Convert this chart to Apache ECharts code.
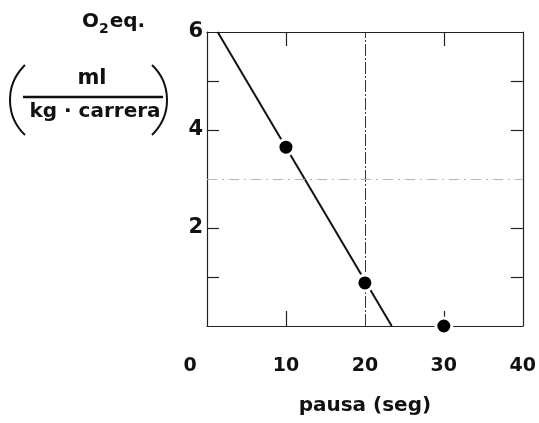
<!DOCTYPE html>
<html>
<head>
<meta charset="utf-8">
<script src="https://cdn.jsdelivr.net/npm/echarts@6/dist/echarts.min.js"></script>
<style>html,body{margin:0;padding:0;background:#fff;}#c{width:539px;height:423px;}</style>
</head>
<body>
<div id="c"></div>
<script>
// Data
var pausa = [10, 20, 30];              // pausa (seg)
var o2eq = [3.65, 0.88, 0.0];          // O2 eq. ml/(kg·carrera)
var fitX = [1.35, 23.4];               // fitted line end points (x)
var fitY = [6, 0];                     // fitted line end points (y)
var xTickLabels = [0, 10, 20, 30, 40];
var xMinorTicks = [10, 30];
var yTickLabels = [2, 4, 6];
var yMinorTicks = [1, 2, 4, 5];

var font = 'DejaVu Sans';
var ink = '#111';

var chart = echarts.init(document.getElementById('c'), null, {renderer: 'canvas'});

var pts = pausa.map(function (x, i) { return [x, o2eq[i]]; });
var fit = fitX.map(function (x, i) { return [x, fitY[i]]; });

var boxLine = {show: true, onZero: false, lineStyle: {color: '#222', width: 1.2}};
var tickStyle = {color: '#222', width: 1.2};

chart.setOption({
  animation: false,
  backgroundColor: '#fff',
  grid: {left: 207, right: 14, top: 32, bottom: 97, containLabel: false},
  xAxis: [{
    type: 'value', min: 0, max: 40, interval: 10, position: 'bottom',
    axisLine: boxLine,
    axisTick: {show: true, inside: true, length: 15, customValues: xMinorTicks, lineStyle: tickStyle},
    axisLabel: {
      show: true, customValues: xTickLabels, margin: 31,
      fontFamily: font, fontSize: 19, fontWeight: 'bold', color: ink,
      formatter: function (v) { return v === 0 ? '{z|0}' : String(v); },
      rich: {z: {fontFamily: font, fontSize: 19, fontWeight: 'bold', color: ink, padding: [0, 34, 0, 0]}}
    },
    splitLine: {show: false},
    name: 'pausa (seg)', nameLocation: 'middle', nameGap: 70,
    nameTextStyle: {fontFamily: font, fontSize: 20, fontWeight: 'bold', color: ink}
  }, {
    type: 'value', min: 0, max: 40, interval: 10, position: 'top',
    axisLine: boxLine,
    axisTick: {show: true, inside: true, length: 14, customValues: xMinorTicks, lineStyle: tickStyle},
    axisLabel: {show: false}, splitLine: {show: false}
  }],
  yAxis: [{
    type: 'value', min: 0, max: 6, interval: 1, position: 'left',
    axisLine: boxLine,
    axisTick: {show: true, inside: true, length: 12, customValues: yMinorTicks, lineStyle: tickStyle},
    axisLabel: {show: true, customValues: yTickLabels, margin: 4, fontFamily: font, fontSize: 21, fontWeight: 'bold', color: ink},
    splitLine: {show: false}
  }, {
    type: 'value', min: 0, max: 6, interval: 1, position: 'right',
    axisLine: boxLine,
    axisTick: {show: true, inside: true, length: 12, customValues: yMinorTicks, lineStyle: tickStyle},
    axisLabel: {show: false}, splitLine: {show: false}
  }],
  series: [{
    type: 'line', data: fit, xAxisIndex: 0, yAxisIndex: 0,
    symbol: 'none', lineStyle: {color: ink, width: 2},
    z: 3,
    markLine: {
      silent: true, symbol: 'none', label: {show: false},
      data: [
        {xAxis: 20, lineStyle: {color: '#333', width: 1, type: [12, 2, 2, 2]}},
        {yAxis: 3, lineStyle: {color: '#b5b5b5', width: 1, type: [10, 5, 2, 5]}}
      ]
    }
  }, {
    type: 'scatter', data: pts, xAxisIndex: 0, yAxisIndex: 0,
    symbol: 'circle', symbolSize: 16,
    itemStyle: {color: '#000', borderColor: '#fff', borderWidth: 3, opacity: 1},
    z: 5
  }],
  graphic: [
    {type: 'text', left: 82, top: 12, z: 10, style: {
      text: '{a|O}{b|2}{a|eq.}',
      rich: {
        a: {fontFamily: font, fontSize: 20, fontWeight: 'bold', fill: ink},
        b: {fontFamily: font, fontSize: 14, fontWeight: 'bold', fill: ink, padding: [14, 1, 0, 0]}
      }
    }},
    {type: 'text', z: 10, style: {x: 92, y: 79, text: 'ml', align: 'center', verticalAlign: 'middle',
      fontFamily: font, fontSize: 21, fontWeight: 'bold', fill: ink}},
    {type: 'line', z: 10, shape: {x1: 23, y1: 97, x2: 163, y2: 97}, style: {stroke: ink, lineWidth: 2.5}},
    {type: 'text', z: 10, style: {x: 95, y: 112, text: 'kg · carrera', align: 'center', verticalAlign: 'middle',
      fontFamily: font, fontSize: 20, fontWeight: 'bold', fill: ink}},
    {type: 'arc', z: 10, shape: {cx: 58.3, cy: 100, r: 48.3, startAngle: Math.PI - 0.81, endAngle: Math.PI + 0.81},
      style: {stroke: ink, lineWidth: 2, fill: null}},
    {type: 'arc', z: 10, shape: {cx: 118.7, cy: 100, r: 48.3, startAngle: -0.81, endAngle: 0.81},
      style: {stroke: ink, lineWidth: 2, fill: null}}
  ]
});
</script>
</body>
</html>
